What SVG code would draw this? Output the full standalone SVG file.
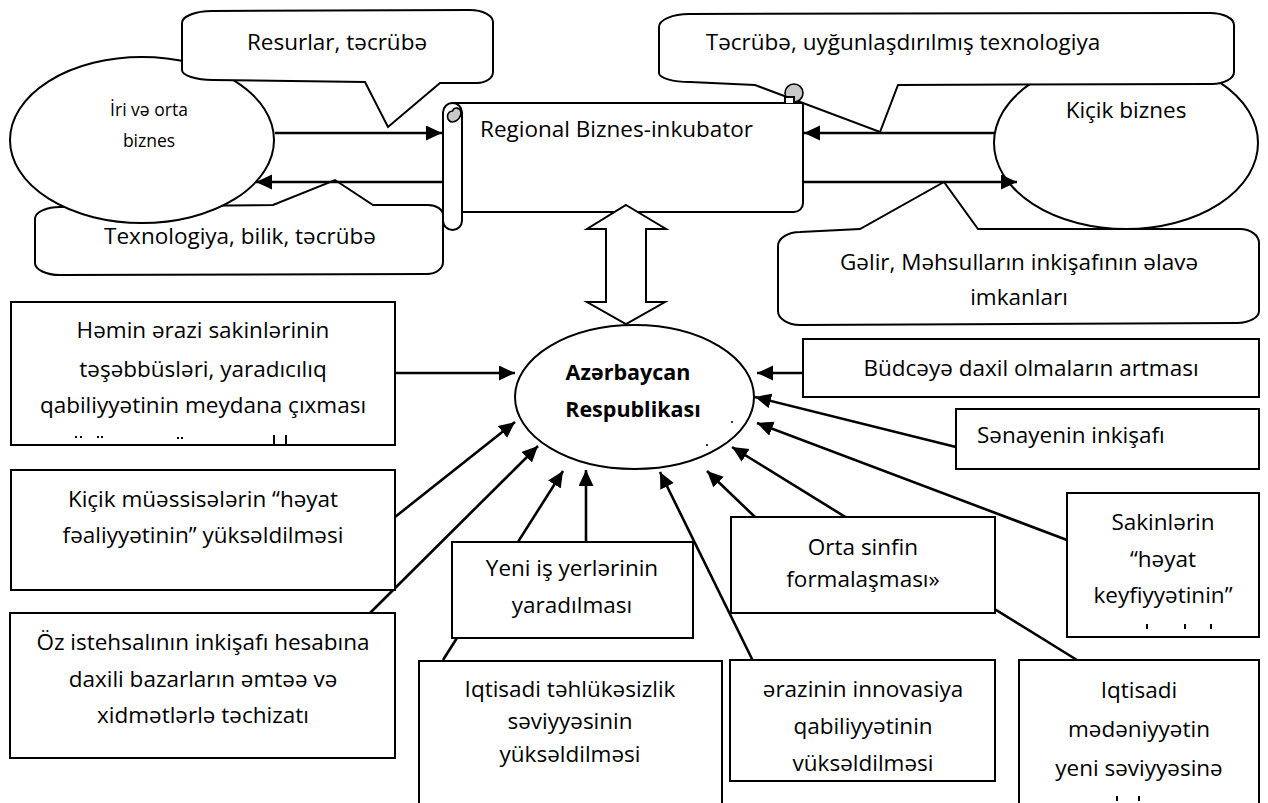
<svg xmlns="http://www.w3.org/2000/svg" width="1268" height="803" viewBox="0 0 1268 803">
<defs>
<style>
.t{font-family:"Open Sans","Noto Sans","DejaVu Sans",sans-serif;font-size:22.5px;fill:#000;text-anchor:middle}
.ts{font-size:17.5px}
.tb{font-weight:bold;font-size:21.5px}
.st{text-anchor:start}
.sh{fill:#fff;stroke:#000;stroke-width:2}
.grey{fill:#c8c8c8;stroke:#000;stroke-width:1.6}
.c{fill:none;stroke:#000;stroke-width:2.6}
.frag{fill:#000}
</style>
<marker id="ah" markerUnits="userSpaceOnUse" markerWidth="17" markerHeight="16" refX="16" refY="7.5" orient="auto">
<path d="M0,0 L16,7.5 L0,15 Z" fill="#000"/>
</marker>
</defs>
<rect width="1268" height="803" fill="#fff"/>

<g id="callout-texnologiya">
<path class="sh" d="M35,218 A25,12 0 0 1 60,207 L273,205 L335,180 L373,205 L428,205 A15,10 0 0 1 443,215 L443,262 A16,12 0 0 1 427,274 L60,275 A25,12 0 0 1 35,263 Z"/>
<text class="t" x="240" y="244">Texnologiya, bilik, təcrübə</text>
</g>

<g id="node-iri">
<ellipse class="sh" cx="142" cy="140" rx="132" ry="83"/>
<text class="t ts" x="149" y="116">İri və orta</text>
<text class="t ts" x="149" y="147">biznes</text>
</g>

<g id="callout-resurlar">
<path class="sh" d="M182,23 A30,12 0 0 1 212,11 L470,10 A23,12 0 0 1 493,22 L493,72 A16,11 0 0 1 477,83 L440,83 L388,127 L365,82 L213,80 A31,10 0 0 1 182,70 Z"/>
<text class="t" x="337" y="50">Resurlar, təcrübə</text>
</g>

<g id="node-kicik">
<ellipse class="sh" cx="1126" cy="143" rx="132" ry="86"/>
<text class="t" x="1126" y="118">Kiçik biznes</text>
</g>

<g id="callout-tecrube">
<path class="sh" d="M659,27 A30,13 0 0 1 689,14 L1210,13 A24,12 0 0 1 1234,25 L1234,72 A22,12 0 0 1 1212,84 L898,85 L880,132 L755,85 L690,82 A31,9 0 0 1 659,73 Z"/>
<text class="t" x="903" y="50">Təcrübə, uyğunlaşdırılmış texnologiya</text>
</g>

<g id="callout-gelir">
<path class="sh" d="M778,246 A22,14 0 0 1 800,232 L860,229 L944,182 L978,229 L1240,229 A19,14 0 0 1 1259,243 L1259,311 A22,12 0 0 1 1237,323 L800,325 A22,14 0 0 1 778,311 Z"/>
<text class="t" x="1019" y="270">Gəlir, Məhsulların inkişafının əlavə</text>
<text class="t" x="1019" y="305">imkanları</text>
</g>

<g id="node-inkubator">
<path class="sh" d="M452,103 L803,103 L803,203 A9,9 0 0 1 794,212 L452,212 Z"/>
<rect class="sh" x="443" y="103" width="19" height="127" rx="9.5" ry="9.5"/>
<path class="grey" d="M452.5,122 A5,5.5 0 0 1 452.5,111 A4.5,5 0 0 1 461,112 A9.5,9.5 0 0 1 452.5,122 Z"/>
<circle class="grey" cx="794" cy="93" r="9"/>
<path class="sh" d="M785,103 L785,97 L794,97 L794,103"/>
<text class="t st" x="480" y="137">Regional Biznes-inkubator</text>
</g>

<g id="node-azerbaycan">
<ellipse class="sh" cx="634.5" cy="397" rx="119.5" ry="72"/>
<text class="t tb" x="628" y="380">Azərbaycan</text>
<text class="t tb" x="633" y="417">Respublikası</text>
<circle cx="732" cy="422" r="1.1" fill="#000"/>
<circle cx="707" cy="445" r="1.1" fill="#000"/>
</g>

<g id="connectors">
<line class="c" x1="275" y1="133" x2="442" y2="133" marker-end="url(#ah)"/>
<line class="c" x1="443" y1="182" x2="256" y2="182" marker-end="url(#ah)"/>
<line class="c" x1="995" y1="133" x2="804" y2="133" marker-end="url(#ah)"/>
<line class="c" x1="803" y1="182" x2="1017" y2="182" marker-end="url(#ah)"/>
<polygon class="sh" points="626,205 666,229 646,229 646,302 665,302 626,324 587,302 606,302 606,229 587,229"/>
<line class="c" x1="395" y1="373" x2="515" y2="373" marker-end="url(#ah)"/>
<line class="c" x1="395" y1="517" x2="515" y2="422" marker-end="url(#ah)"/>
<line class="c" x1="370" y1="613" x2="538" y2="446" marker-end="url(#ah)"/>
<line class="c" x1="443" y1="660" x2="563" y2="471" marker-end="url(#ah)"/>
<line class="c" x1="586" y1="542" x2="586" y2="470" marker-end="url(#ah)"/>
<line class="c" x1="753" y1="661" x2="660" y2="472" marker-end="url(#ah)"/>
<line class="c" x1="755" y1="517" x2="707" y2="471" marker-end="url(#ah)"/>
<line class="c" x1="1077" y1="660" x2="732" y2="447" marker-end="url(#ah)"/>
<line class="c" x1="1067" y1="540" x2="757" y2="423" marker-end="url(#ah)"/>
<line class="c" x1="956" y1="447" x2="755" y2="397" marker-end="url(#ah)"/>
<line class="c" x1="803" y1="373" x2="757" y2="373" marker-end="url(#ah)"/>
</g>

<g id="node-hemin">
<rect class="sh" x="11" y="302" width="384" height="143"/>
<text class="t" x="203" y="338">Həmin ərazi sakinlərinin</text>
<text class="t" x="203" y="377">təşəbbüsləri, yaradıcılıq</text>
<text class="t" x="203" y="413">qabiliyyətinin meydana çıxması</text>
<rect class="frag" x="75" y="436" width="2" height="2"/><rect class="frag" x="80" y="436" width="2" height="2"/>
<rect class="frag" x="97" y="436" width="2" height="2"/><rect class="frag" x="101" y="436" width="2" height="2"/>
<rect class="frag" x="177" y="437" width="2" height="2"/><rect class="frag" x="181" y="437" width="2" height="2"/>
<rect class="frag" x="273" y="435" width="2" height="9"/><rect class="frag" x="285" y="435" width="2" height="9"/>
</g>

<g id="node-kicik-muessise">
<rect class="sh" x="11" y="470" width="384" height="120"/>
<text class="t" x="203" y="507">Kiçik müəssisələrin “həyat</text>
<text class="t" x="203" y="543">fəaliyyətinin” yüksəldilməsi</text>
</g>

<g id="node-oz">
<rect class="sh" x="10" y="613" width="385" height="145"/>
<text class="t" x="203" y="650">Öz istehsalının inkişafı hesabına</text>
<text class="t" x="203" y="687">daxili bazarların əmtəə və</text>
<text class="t" x="203" y="723">xidmətlərlə təchizatı</text>
</g>

<g id="node-yeni">
<rect class="sh" x="452" y="542" width="241" height="96"/>
<text class="t" x="572" y="576">Yeni iş yerlərinin</text>
<text class="t" x="572" y="613">yaradılması</text>
</g>

<g id="node-iqtisadi-tehlukesizlik">
<rect class="sh" x="419" y="661" width="303" height="160"/>
<text class="t" x="570" y="697">Iqtisadi təhlükəsizlik</text>
<text class="t" x="570" y="729">səviyyəsinin</text>
<text class="t" x="570" y="762">yüksəldilməsi</text>
</g>

<g id="node-erazinin">
<rect class="sh" x="730" y="660" width="265" height="121"/>
<text class="t" x="863" y="697">ərazinin innovasiya</text>
<text class="t" x="863" y="734">qabiliyyətinin</text>
<text class="t" x="863" y="771">vüksəldilməsi</text>
</g>

<g id="node-orta">
<rect class="sh" x="731" y="517" width="264" height="96"/>
<text class="t" x="863" y="555">Orta sinfin</text>
<text class="t" x="863" y="587">formalaşması»</text>
</g>

<g id="node-budce">
<rect class="sh" x="803" y="339" width="456" height="58"/>
<text class="t" x="1031" y="376">Büdcəyə daxil olmaların artması</text>
</g>

<g id="node-senaye">
<rect class="sh" x="956" y="409" width="303" height="60"/>
<text class="t st" x="977" y="443">Sənayenin inkişafı</text>
</g>

<g id="node-sakinler">
<rect class="sh" x="1067" y="493" width="192" height="144"/>
<text class="t" x="1163" y="530">Sakinlərin</text>
<text class="t" x="1163" y="567">“həyat</text>
<text class="t" x="1163" y="603">keyfiyyətinin”</text>
<rect class="frag" x="1146" y="624" width="2" height="5"/>
<rect class="frag" x="1184" y="624" width="2" height="5"/>
<rect class="frag" x="1210" y="624" width="2" height="5"/>
</g>

<g id="node-iqtisadi-medeniyyet">
<rect class="sh" x="1019" y="660" width="240" height="160"/>
<text class="t" x="1139" y="698">Iqtisadi</text>
<text class="t" x="1139" y="737">mədəniyyətin</text>
<text class="t" x="1139" y="776">yeni səviyyəsinə</text>
<rect class="frag" x="1116" y="796" width="2" height="5"/>
<rect class="frag" x="1138" y="796" width="2" height="5"/>
</g>
</svg>
